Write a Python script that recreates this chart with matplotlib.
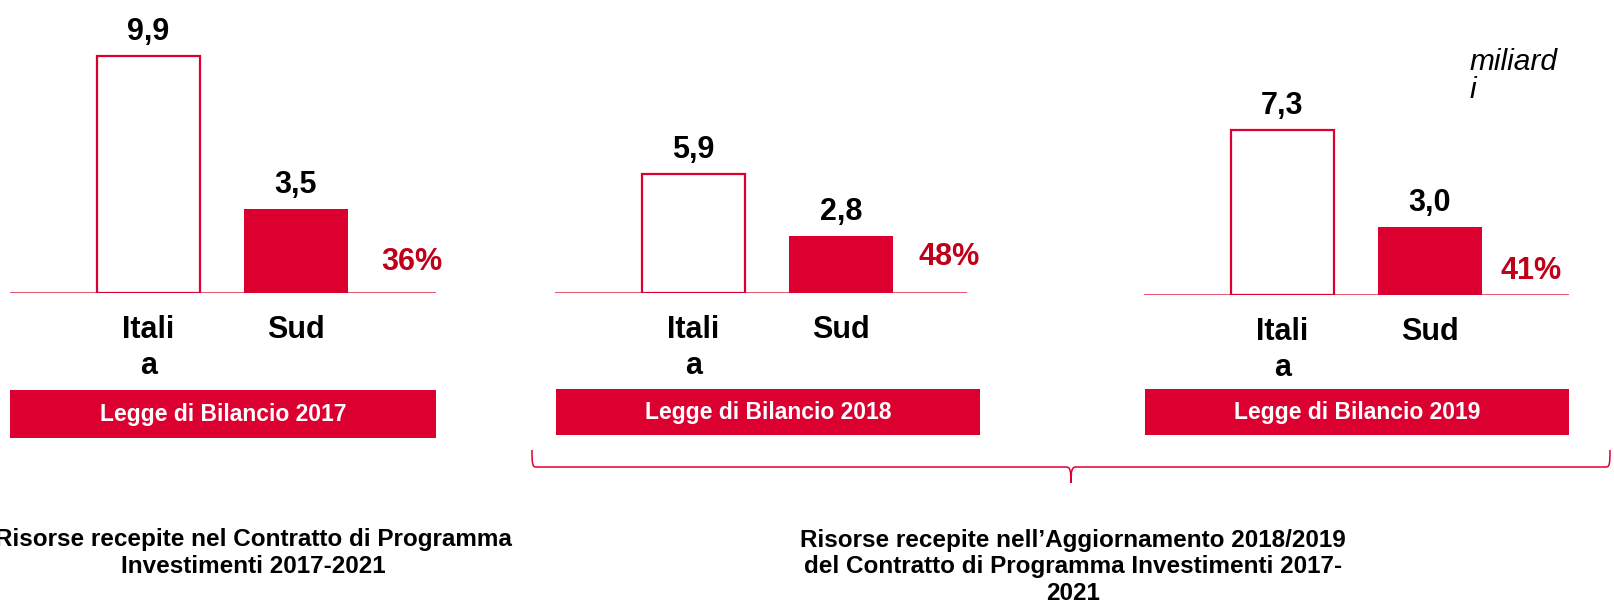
import matplotlib.pyplot as plt
from matplotlib.patches import Rectangle, PathPatch
from matplotlib.path import Path

plt.rcParams['font.family'] = ['Liberation Sans', 'DejaVu Sans']

# dati (miliardi di euro)
categories = ['Itali\na', 'Sud']
italia = [9.9, 5.9, 7.3]
sud = [3.5, 2.8, 3.0]
quota_sud = ['36%', '48%', '41%']
titoli = ['Legge di Bilancio 2017', 'Legge di Bilancio 2018', 'Legge di Bilancio 2019']
note_sx = 'Risorse recepite nel Contratto di Programma\nInvestimenti 2017-2021'
note_dx = ('Risorse recepite nell\u2019Aggiornamento 2018/2019\n'
           'del Contratto di Programma Investimenti 2017-\n2021')
unita = 'miliard\ni'

RED = '#DC0030'
DARKRED = '#C0001A'
W, H = 1614, 615

# layout pannelli in pixel: sinistra, destra, base, pixel per unita
pannelli = [(10, 436, 293, 23.9), (555, 967, 293, 20.2), (1144, 1569, 295, 22.6)]
box = [(10, 436, 390, 438), (556, 980, 389, 435), (1145, 1569, 389, 435)]
pos_quota = [(412, 262), (949, 257), (1531, 271)]
PX_UNIT = 147.3

fig = plt.figure(figsize=(W / 100, H / 100), dpi=100)

# livello di sfondo in coordinate pixel
bg = fig.add_axes([0, 0, 1, 1])
bg.set_xlim(0, W)
bg.set_ylim(H, 0)
bg.axis('off')

for i, (l, r, b, ppu) in enumerate(pannelli):
    ax = fig.add_axes([l / W, (H - b) / H, (r - l) / W, b / H])
    ax.set_xlim(-0.94, -0.94 + (r - l) / PX_UNIT)
    ax.set_ylim(0, b / ppu)
    ax.axis('off')
    vals = [italia[i], sud[i]]
    ax.bar(0, vals[0], width=0.705, color='white', edgecolor=RED, linewidth=1.6, zorder=2)
    ax.bar(1, vals[1], width=0.705, color=RED, edgecolor=RED, linewidth=0, zorder=2)
    ax.axhline(0, color='#E23A55', lw=1.2, zorder=1)
    for x, v in enumerate(vals):
        ax.annotate(f'{v:.1f}'.replace('.', ','), xy=(x, v), xytext=(0, 11.5),
                    textcoords='offset points', ha='center', va='baseline',
                    fontsize=22, fontweight='bold', annotation_clip=False)
        ax.annotate(categories[x], xy=(x, 0), xytext=(0, -16),
                    textcoords='offset points', ha='center', va='top',
                    fontsize=22, fontweight='bold', linespacing=1.25,
                    annotation_clip=False)

    qx, qy = pos_quota[i]
    bg.text(qx, qy, quota_sud[i], ha='center', va='center', fontsize=22,
            fontweight='bold', color=DARKRED)

    bl, br, bt, bb = box[i]
    bg.add_patch(Rectangle((bl, bt), br - bl, bb - bt, color=RED, lw=0))
    bg.text((bl + br) / 2, (bt + bb) / 2, titoli[i], ha='center', va='center',
            fontsize=16.5, fontweight='bold', color='white')

# parentesi graffa sotto gli ultimi due pannelli
verts = [(532, 450), (532, 464), (532.5, 467), (536, 467), (1066, 467),
         (1070, 467), (1071, 470), (1071, 483),
         (1071, 470), (1072, 467), (1076, 467), (1606, 467),
         (1609.5, 467), (1610, 464), (1610, 450)]
codes = [Path.MOVETO, Path.CURVE4, Path.CURVE4, Path.CURVE4, Path.LINETO,
         Path.CURVE4, Path.CURVE4, Path.CURVE4,
         Path.CURVE4, Path.CURVE4, Path.CURVE4, Path.LINETO,
         Path.CURVE4, Path.CURVE4, Path.CURVE4]
bg.add_patch(PathPatch(Path(verts, codes), fill=False, edgecolor=RED, lw=1.1))

bg.text(253, 553, note_sx, ha='center', va='center', fontsize=17.5,
        fontweight='bold', linespacing=1.19)
bg.text(1073, 567, note_dx, ha='center', va='center', fontsize=17.5,
        fontweight='bold', linespacing=1.19)
bg.text(1470, 76, unita, ha='left', va='center', fontsize=21.5,
        fontstyle='italic', linespacing=1.0)

fig.savefig('out.png', dpi=100)
